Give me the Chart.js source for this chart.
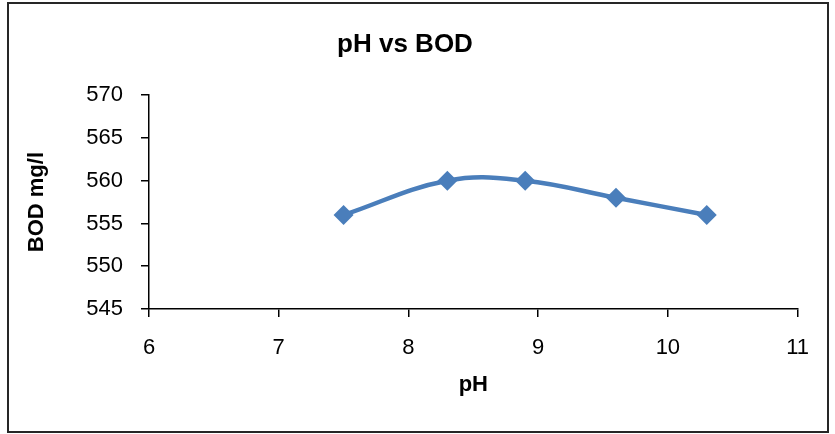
<!DOCTYPE html>
<html>
<head>
<meta charset="utf-8">
<script src="https://cdn.jsdelivr.net/npm/chart.js@4/dist/chart.umd.min.js"></script>
<style>
  body { margin: 0; background: #fff; }
  #frame {
    position: absolute; left: 7px; top: 2px;
    width: 822px; height: 431px;
    border: 2px solid #262626; box-sizing: border-box;
  }
</style>
</head>
<body>
<div id="frame"><canvas id="bodChart"></canvas></div>
<script>
// pH readings and measured BOD (mg/l)
const phValues = [7.5, 8.3, 8.9, 9.6, 10.3];
const bodValues = [556, 560, 560, 558, 556];
const xTicks = [6, 7, 8, 9, 10, 11];
const yTicks = [545, 550, 555, 560, 565, 570];

const points = phValues.map((ph, i) => ({ x: ph, y: bodValues[i] }));
const axisFont = { family: "Liberation Sans", size: 22 };
const titleFont = { family: "Liberation Sans", size: 22, weight: "bold" };

const ctx = document.getElementById("bodChart").getContext("2d");
new Chart(ctx, {
  type: "scatter",
  data: {
    datasets: [{
      label: "BOD",
      data: points,
      showLine: true,
      borderColor: "#4A7EBB",
      borderWidth: 4.5,
      tension: 0.4,
      pointStyle: "rectRot",
      pointRadius: 10,
      pointHoverRadius: 10,
      pointBackgroundColor: "#4A7EBB",
      pointBorderColor: "#4A7EBB",
      pointBorderWidth: 0
    }]
  },
  options: {
    responsive: true,
    maintainAspectRatio: false,
    animation: false,
    layout: { padding: { left: 0, right: 26, top: 0, bottom: 0 } },
    plugins: {
      legend: { display: false },
      tooltip: { enabled: false },
      title: {
        display: true,
        text: "pH vs BOD",
        color: "#000",
        font: { family: "Liberation Sans", size: 26, weight: "bold" },
        padding: { top: 25, bottom: 35 }
      }
    },
    scales: {
      x: {
        type: "linear",
        min: 6,
        max: 11,
        afterBuildTicks: (scale) => { scale.ticks = xTicks.map(v => ({ value: v })); },
        afterFit: (scale) => { scale.height = 122; },
        ticks: { color: "#000", font: axisFont, padding: 18 },
        grid: { drawOnChartArea: false, tickLength: 8, color: "#000", lineWidth: 1.5 },
        border: { color: "#000", width: 1.5 },
        title: { display: true, text: "pH", color: "#000", font: titleFont, padding: { bottom: 33 } }
      },
      y: {
        min: 545,
        max: 570,
        afterBuildTicks: (scale) => { scale.ticks = yTicks.map(v => ({ value: v })); },
        afterFit: (scale) => { scale.width = 140; },
        ticks: { color: "#000", font: axisFont, padding: 18 },
        grid: { drawOnChartArea: false, tickLength: 8, color: "#000", lineWidth: 1.5 },
        border: { color: "#000", width: 1.5 },
        title: { display: true, text: "BOD mg/l", color: "#000", font: titleFont, padding: { top: 15 } }
      }
    }
  }
});
</script>
</body>
</html>
